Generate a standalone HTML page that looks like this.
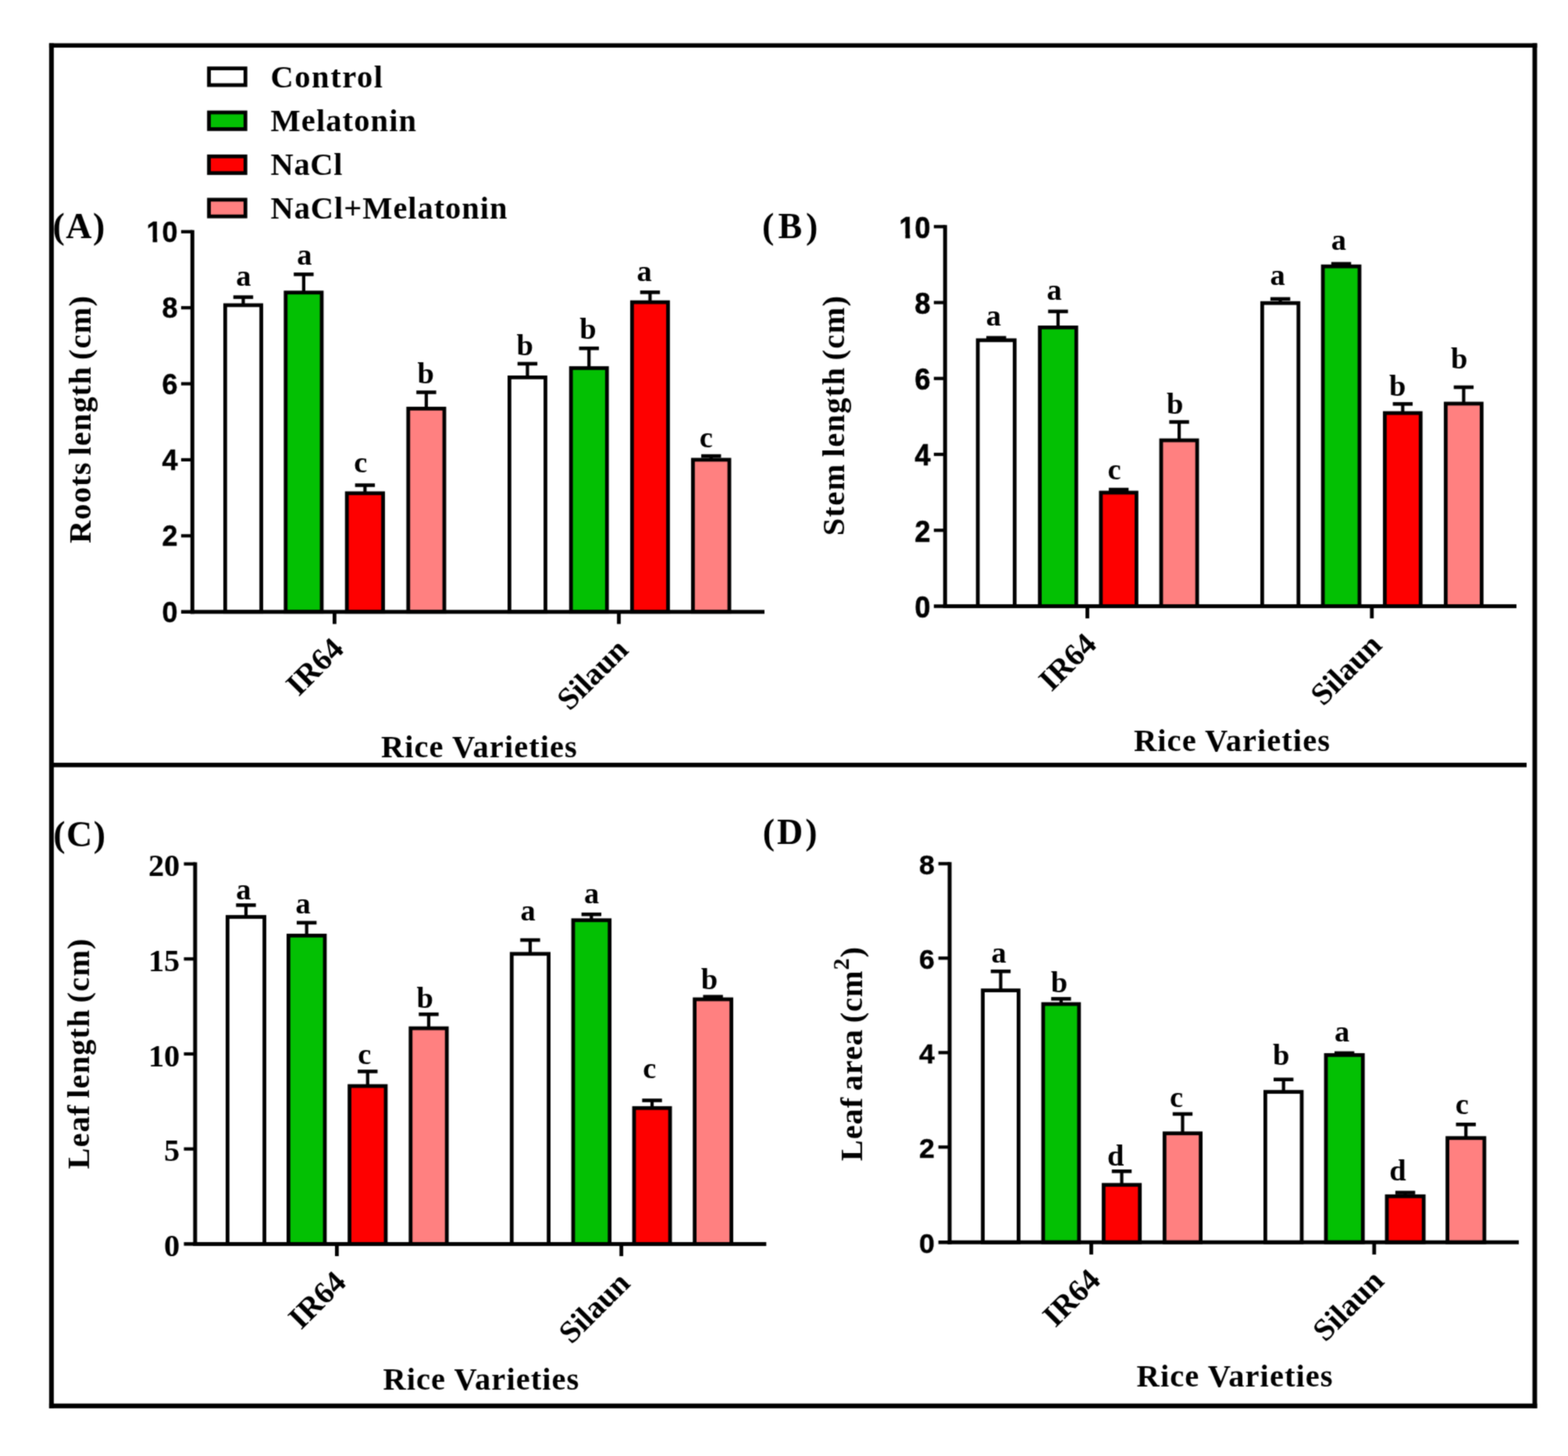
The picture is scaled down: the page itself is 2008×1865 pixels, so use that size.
<!DOCTYPE html>
<html lang="en">
<head>
<meta charset="utf-8">
<title>Rice varieties growth parameters</title>
<style>
html,body{margin:0;padding:0;background:#fff;}
body{width:2008px;height:1865px;overflow:hidden;}
svg{display:block;}
svg line, svg rect{stroke:#000;}
svg text{fill:#000;font-weight:bold;}
svg text.s{font-family:"Liberation Serif", "Times New Roman", serif;}
svg text.a{font-family:"Liberation Sans", Arial, sans-serif;}
</style>
</head>
<body>
<svg width="2008" height="1865" viewBox="0 0 2008 1865">
<defs><filter id="soft" x="0" y="0" width="2008" height="1865" filterUnits="userSpaceOnUse" color-interpolation-filters="sRGB"><feConvolveMatrix order="3" kernelMatrix="1 2 1 2 8 2 1 2 1" edgeMode="duplicate" preserveAlpha="false"/></filter></defs>
<rect x="0" y="0" width="2008" height="1865" fill="#fff" style="stroke:none"/>
<g filter="url(#soft)">
<g id="frame">
<rect x="62.9" y="55.4" width="6.00" height="1748.50" fill="#000" style="stroke:none"/>
<rect x="1962.5" y="55.4" width="5.90" height="1748.50" fill="#000" style="stroke:none"/>
<rect x="62.9" y="55.4" width="1905.50" height="5.60" fill="#000" style="stroke:none"/>
<rect x="62.9" y="1797.8" width="1905.50" height="6.10" fill="#000" style="stroke:none"/>
<line x1="66.00" y1="979.85" x2="1955.00" y2="979.85" stroke-width="5.7"/>
</g>
<g id="legend">
<rect x="267.60" y="87.60" width="46.70" height="21.40" fill="#ffffff" stroke-width="4.8"/>
<text class="s" x="346.50" y="111.70" font-size="40.5" text-anchor="start" letter-spacing="1.55">Control</text>
<rect x="267.60" y="144.00" width="46.70" height="21.40" fill="#03c003" stroke-width="4.8"/>
<text class="s" x="346.50" y="168.10" font-size="40.5" text-anchor="start" letter-spacing="1.1">Melatonin</text>
<rect x="267.60" y="200.30" width="46.70" height="21.40" fill="#fe0000" stroke-width="4.8"/>
<text class="s" x="346.50" y="224.20" font-size="40.5" text-anchor="start" letter-spacing="0.65">NaCl</text>
<rect x="267.60" y="255.80" width="46.70" height="21.40" fill="#ff8080" stroke-width="4.8"/>
<text class="s" x="346.50" y="279.50" font-size="40.5" text-anchor="start" letter-spacing="0.93">NaCl+Melatonin</text>
</g>
<g id="panel-A">
<line x1="311.50" y1="380.20" x2="311.50" y2="390.50" stroke-width="4.2"/>
<line x1="298.80" y1="380.60" x2="324.20" y2="380.60" stroke-width="4.6"/>
<rect x="288.40" y="390.90" width="46.20" height="392.80" fill="#ffffff" stroke-width="4.8"/>
<line x1="388.90" y1="351.00" x2="388.90" y2="374.30" stroke-width="4.2"/>
<line x1="376.20" y1="351.40" x2="401.60" y2="351.40" stroke-width="4.6"/>
<rect x="365.80" y="374.70" width="46.20" height="409.00" fill="#03c003" stroke-width="4.8"/>
<line x1="467.40" y1="621.10" x2="467.40" y2="631.40" stroke-width="4.2"/>
<line x1="454.70" y1="621.50" x2="480.10" y2="621.50" stroke-width="4.6"/>
<rect x="444.20" y="631.80" width="46.40" height="151.90" fill="#fe0000" stroke-width="4.8"/>
<line x1="545.90" y1="502.10" x2="545.90" y2="523.00" stroke-width="4.2"/>
<line x1="533.20" y1="502.50" x2="558.60" y2="502.50" stroke-width="4.6"/>
<rect x="522.80" y="523.40" width="46.20" height="260.30" fill="#ff8080" stroke-width="4.8"/>
<line x1="675.45" y1="465.50" x2="675.45" y2="483.00" stroke-width="4.2"/>
<line x1="662.75" y1="465.90" x2="688.15" y2="465.90" stroke-width="4.6"/>
<rect x="652.40" y="483.40" width="46.10" height="300.30" fill="#ffffff" stroke-width="4.8"/>
<line x1="754.25" y1="445.80" x2="754.25" y2="471.10" stroke-width="4.2"/>
<line x1="741.55" y1="446.20" x2="766.95" y2="446.20" stroke-width="4.6"/>
<rect x="731.20" y="471.50" width="46.10" height="312.20" fill="#03c003" stroke-width="4.8"/>
<line x1="832.45" y1="374.00" x2="832.45" y2="386.70" stroke-width="4.2"/>
<line x1="819.75" y1="374.40" x2="845.15" y2="374.40" stroke-width="4.6"/>
<rect x="809.40" y="387.10" width="46.10" height="396.60" fill="#fe0000" stroke-width="4.8"/>
<line x1="910.70" y1="583.70" x2="910.70" y2="588.50" stroke-width="4.2"/>
<line x1="898.00" y1="584.10" x2="923.40" y2="584.10" stroke-width="4.6"/>
<rect x="887.40" y="588.90" width="46.60" height="194.80" fill="#ff8080" stroke-width="4.8"/>
<line x1="246.35" y1="294.80" x2="246.35" y2="786.20" stroke-width="5.0"/>
<line x1="243.85" y1="783.70" x2="979.00" y2="783.70" stroke-width="5.0"/>
<line x1="231.95" y1="296.80" x2="246.35" y2="296.80" stroke-width="4.2"/>
<text class="a" x="227.50" y="309.80" font-size="36.0" text-anchor="end" style="stroke:#000;stroke-width:0.4">10</text>
<rect x="186.37" y="304.94" width="9.23" height="6.84" fill="#fff" style="stroke:none"/>
<rect x="201.30" y="304.94" width="6.86" height="6.84" fill="#fff" style="stroke:none"/>
<line x1="231.95" y1="394.18" x2="246.35" y2="394.18" stroke-width="4.2"/>
<text class="a" x="227.50" y="407.18" font-size="36.0" text-anchor="end" style="stroke:#000;stroke-width:0.4">8</text>
<line x1="231.95" y1="491.56" x2="246.35" y2="491.56" stroke-width="4.2"/>
<text class="a" x="227.50" y="504.56" font-size="36.0" text-anchor="end" style="stroke:#000;stroke-width:0.4">6</text>
<line x1="231.95" y1="588.94" x2="246.35" y2="588.94" stroke-width="4.2"/>
<text class="a" x="227.50" y="601.94" font-size="36.0" text-anchor="end" style="stroke:#000;stroke-width:0.4">4</text>
<line x1="231.95" y1="686.32" x2="246.35" y2="686.32" stroke-width="4.2"/>
<text class="a" x="227.50" y="699.32" font-size="36.0" text-anchor="end" style="stroke:#000;stroke-width:0.4">2</text>
<line x1="231.95" y1="783.70" x2="246.35" y2="783.70" stroke-width="4.6"/>
<text class="a" x="227.50" y="796.70" font-size="36.0" text-anchor="end" style="stroke:#000;stroke-width:0.4">0</text>
<line x1="428.40" y1="783.70" x2="428.40" y2="799.30" stroke-width="4.8"/>
<line x1="792.50" y1="783.70" x2="792.50" y2="799.30" stroke-width="4.8"/>
<text class="s" x="311.90" y="366.10" font-size="38.5" text-anchor="middle">a</text>
<text class="s" x="389.90" y="338.50" font-size="38.5" text-anchor="middle">a</text>
<text class="s" x="461.80" y="605.20" font-size="38.5" text-anchor="middle">c</text>
<text class="s" x="545.10" y="491.00" font-size="38.5" text-anchor="middle">b</text>
<text class="s" x="672.10" y="454.70" font-size="38.5" text-anchor="middle">b</text>
<text class="s" x="753.00" y="434.30" font-size="38.5" text-anchor="middle">b</text>
<text class="s" x="825.10" y="359.60" font-size="38.5" text-anchor="middle">a</text>
<text class="s" x="904.30" y="572.90" font-size="38.5" text-anchor="middle">c</text>
<text class="s" x="0" y="0" font-size="40" text-anchor="end" transform="translate(442.10 833.30) rotate(-45)">IR64</text>
<text class="s" x="0" y="0" font-size="40" text-anchor="end" transform="translate(806.60 834.50) rotate(-45)">Silaun</text>
<text class="s" x="487.90" y="969.60" font-size="40.5" text-anchor="start" letter-spacing="1.05">Rice Varieties</text>
<text class="s" x="0" y="0" font-size="40.5" text-anchor="middle" letter-spacing="1.11" word-spacing="-3.4" transform="translate(116.00 537.00) rotate(-90)">Roots length (cm)</text>
<text class="s" x="67.50" y="305.20" font-size="46" text-anchor="start" letter-spacing="1.5">(A)</text>
</g>
<g id="panel-B">
<line x1="1275.80" y1="432.30" x2="1275.80" y2="435.40" stroke-width="4.2"/>
<line x1="1263.10" y1="432.70" x2="1288.50" y2="432.70" stroke-width="4.6"/>
<rect x="1252.20" y="435.80" width="47.20" height="340.70" fill="#ffffff" stroke-width="4.8"/>
<line x1="1354.95" y1="398.50" x2="1354.95" y2="419.00" stroke-width="4.2"/>
<line x1="1342.25" y1="398.90" x2="1367.65" y2="398.90" stroke-width="4.6"/>
<rect x="1331.60" y="419.40" width="46.70" height="357.10" fill="#03c003" stroke-width="4.8"/>
<line x1="1432.60" y1="626.70" x2="1432.60" y2="630.60" stroke-width="4.2"/>
<line x1="1419.90" y1="627.10" x2="1445.30" y2="627.10" stroke-width="4.6"/>
<rect x="1409.80" y="631.00" width="45.60" height="145.50" fill="#fe0000" stroke-width="4.8"/>
<line x1="1510.05" y1="540.10" x2="1510.05" y2="563.60" stroke-width="4.2"/>
<line x1="1497.35" y1="540.50" x2="1522.75" y2="540.50" stroke-width="4.6"/>
<rect x="1487.00" y="564.00" width="46.10" height="212.50" fill="#ff8080" stroke-width="4.8"/>
<line x1="1639.60" y1="382.50" x2="1639.60" y2="387.80" stroke-width="4.2"/>
<line x1="1626.90" y1="382.90" x2="1652.30" y2="382.90" stroke-width="4.6"/>
<rect x="1616.40" y="388.20" width="46.40" height="388.30" fill="#ffffff" stroke-width="4.8"/>
<line x1="1717.55" y1="337.50" x2="1717.55" y2="340.80" stroke-width="4.2"/>
<line x1="1704.85" y1="337.90" x2="1730.25" y2="337.90" stroke-width="4.6"/>
<rect x="1694.10" y="341.20" width="46.90" height="435.30" fill="#03c003" stroke-width="4.8"/>
<line x1="1796.35" y1="517.00" x2="1796.35" y2="528.70" stroke-width="4.2"/>
<line x1="1783.65" y1="517.40" x2="1809.05" y2="517.40" stroke-width="4.6"/>
<rect x="1773.40" y="529.10" width="45.90" height="247.40" fill="#fe0000" stroke-width="4.8"/>
<line x1="1874.40" y1="495.60" x2="1874.40" y2="516.60" stroke-width="4.2"/>
<line x1="1861.70" y1="496.00" x2="1887.10" y2="496.00" stroke-width="4.6"/>
<rect x="1851.40" y="517.00" width="46.00" height="259.50" fill="#ff8080" stroke-width="4.8"/>
<line x1="1210.30" y1="288.30" x2="1210.30" y2="779.00" stroke-width="5.0"/>
<line x1="1207.80" y1="776.50" x2="1942.00" y2="776.50" stroke-width="5.0"/>
<line x1="1195.90" y1="290.30" x2="1210.30" y2="290.30" stroke-width="4.2"/>
<text class="a" x="0" y="0" font-size="35.8" text-anchor="end" transform="translate(1191.30 304.60) scale(1 1.07)" style="stroke:#000;stroke-width:0.7">10</text>
<rect x="1150.40" y="299.43" width="9.03" height="7.28" fill="#fff" style="stroke:none"/>
<rect x="1165.39" y="299.43" width="6.67" height="7.28" fill="#fff" style="stroke:none"/>
<line x1="1195.90" y1="387.54" x2="1210.30" y2="387.54" stroke-width="4.2"/>
<text class="a" x="0" y="0" font-size="35.8" text-anchor="end" transform="translate(1191.30 401.84) scale(1 1.07)" style="stroke:#000;stroke-width:0.7">8</text>
<line x1="1195.90" y1="484.78" x2="1210.30" y2="484.78" stroke-width="4.2"/>
<text class="a" x="0" y="0" font-size="35.8" text-anchor="end" transform="translate(1191.30 499.08) scale(1 1.07)" style="stroke:#000;stroke-width:0.7">6</text>
<line x1="1195.90" y1="582.02" x2="1210.30" y2="582.02" stroke-width="4.2"/>
<text class="a" x="0" y="0" font-size="35.8" text-anchor="end" transform="translate(1191.30 596.32) scale(1 1.07)" style="stroke:#000;stroke-width:0.7">4</text>
<line x1="1195.90" y1="679.26" x2="1210.30" y2="679.26" stroke-width="4.2"/>
<text class="a" x="0" y="0" font-size="35.8" text-anchor="end" transform="translate(1191.30 693.56) scale(1 1.07)" style="stroke:#000;stroke-width:0.7">2</text>
<line x1="1195.90" y1="776.50" x2="1210.30" y2="776.50" stroke-width="4.6"/>
<text class="a" x="0" y="0" font-size="35.8" text-anchor="end" transform="translate(1191.30 790.80) scale(1 1.07)" style="stroke:#000;stroke-width:0.7">0</text>
<line x1="1392.50" y1="776.50" x2="1392.50" y2="792.10" stroke-width="4.8"/>
<line x1="1756.80" y1="776.50" x2="1756.80" y2="792.10" stroke-width="4.8"/>
<text class="s" x="1272.30" y="417.30" font-size="38.5" text-anchor="middle">a</text>
<text class="s" x="1350.00" y="383.50" font-size="38.5" text-anchor="middle">a</text>
<text class="s" x="1427.10" y="614.20" font-size="38.5" text-anchor="middle">c</text>
<text class="s" x="1504.70" y="529.80" font-size="38.5" text-anchor="middle">b</text>
<text class="s" x="1636.10" y="365.20" font-size="38.5" text-anchor="middle">a</text>
<text class="s" x="1714.30" y="319.60" font-size="38.5" text-anchor="middle">a</text>
<text class="s" x="1789.60" y="507.30" font-size="38.5" text-anchor="middle">b</text>
<text class="s" x="1868.60" y="472.10" font-size="38.5" text-anchor="middle">b</text>
<text class="s" x="0" y="0" font-size="40" text-anchor="end" transform="translate(1406.10 827.30) rotate(-45)">IR64</text>
<text class="s" x="0" y="0" font-size="40" text-anchor="end" transform="translate(1771.50 828.50) rotate(-45)">Silaun</text>
<text class="s" x="1452.00" y="962.00" font-size="40.5" text-anchor="start" letter-spacing="1.05">Rice Varieties</text>
<text class="s" x="0" y="0" font-size="40.5" text-anchor="middle" letter-spacing="1.3" word-spacing="-3.4" transform="translate(1081.00 532.00) rotate(-90)">Stem length (cm)</text>
<text class="s" x="976.10" y="305.00" font-size="46" text-anchor="start" letter-spacing="5.0">(B)</text>
</g>
<g id="panel-C">
<line x1="315.00" y1="1159.00" x2="315.00" y2="1174.10" stroke-width="4.2"/>
<line x1="302.30" y1="1159.40" x2="327.70" y2="1159.40" stroke-width="4.6"/>
<rect x="291.40" y="1174.50" width="47.20" height="418.90" fill="#ffffff" stroke-width="4.8"/>
<line x1="392.70" y1="1181.50" x2="392.70" y2="1198.00" stroke-width="4.2"/>
<line x1="380.00" y1="1181.90" x2="405.40" y2="1181.90" stroke-width="4.6"/>
<rect x="369.40" y="1198.40" width="46.60" height="395.00" fill="#03c003" stroke-width="4.8"/>
<line x1="470.80" y1="1372.00" x2="470.80" y2="1390.70" stroke-width="4.2"/>
<line x1="458.10" y1="1372.40" x2="483.50" y2="1372.40" stroke-width="4.6"/>
<rect x="447.60" y="1391.10" width="46.40" height="202.30" fill="#fe0000" stroke-width="4.8"/>
<line x1="549.00" y1="1298.80" x2="549.00" y2="1316.70" stroke-width="4.2"/>
<line x1="536.30" y1="1299.20" x2="561.70" y2="1299.20" stroke-width="4.6"/>
<rect x="525.80" y="1317.10" width="46.40" height="276.30" fill="#ff8080" stroke-width="4.8"/>
<line x1="678.95" y1="1203.70" x2="678.95" y2="1221.40" stroke-width="4.2"/>
<line x1="666.25" y1="1204.10" x2="691.65" y2="1204.10" stroke-width="4.6"/>
<rect x="655.30" y="1221.80" width="47.30" height="371.60" fill="#ffffff" stroke-width="4.8"/>
<line x1="757.35" y1="1170.80" x2="757.35" y2="1178.30" stroke-width="4.2"/>
<line x1="744.65" y1="1171.20" x2="770.05" y2="1171.20" stroke-width="4.6"/>
<rect x="734.00" y="1178.70" width="46.70" height="414.70" fill="#03c003" stroke-width="4.8"/>
<line x1="835.05" y1="1409.10" x2="835.05" y2="1418.90" stroke-width="4.2"/>
<line x1="822.35" y1="1409.50" x2="847.75" y2="1409.50" stroke-width="4.6"/>
<rect x="812.00" y="1419.30" width="46.10" height="174.10" fill="#fe0000" stroke-width="4.8"/>
<line x1="913.10" y1="1276.30" x2="913.10" y2="1279.60" stroke-width="4.2"/>
<line x1="900.40" y1="1276.70" x2="925.80" y2="1276.70" stroke-width="4.6"/>
<rect x="889.60" y="1280.00" width="47.00" height="313.40" fill="#ff8080" stroke-width="4.8"/>
<line x1="249.90" y1="1104.60" x2="249.90" y2="1595.90" stroke-width="5.0"/>
<line x1="247.40" y1="1593.40" x2="981.30" y2="1593.40" stroke-width="5.0"/>
<line x1="235.50" y1="1106.60" x2="249.90" y2="1106.60" stroke-width="4.2"/>
<text class="s" x="230.00" y="1122.20" font-size="40.5" text-anchor="end" letter-spacing="-0.3">20</text>
<line x1="235.50" y1="1228.30" x2="249.90" y2="1228.30" stroke-width="4.2"/>
<text class="s" x="230.00" y="1243.90" font-size="40.5" text-anchor="end" letter-spacing="-0.3">15</text>
<line x1="235.50" y1="1350.00" x2="249.90" y2="1350.00" stroke-width="4.2"/>
<text class="s" x="230.00" y="1365.60" font-size="40.5" text-anchor="end" letter-spacing="-0.3">10</text>
<line x1="235.50" y1="1471.70" x2="249.90" y2="1471.70" stroke-width="4.2"/>
<text class="s" x="230.00" y="1487.30" font-size="40.5" text-anchor="end" letter-spacing="-0.3">5</text>
<line x1="235.50" y1="1593.40" x2="249.90" y2="1593.40" stroke-width="4.6"/>
<text class="s" x="230.00" y="1609.00" font-size="40.5" text-anchor="end" letter-spacing="-0.3">0</text>
<line x1="431.40" y1="1593.40" x2="431.40" y2="1609.00" stroke-width="4.8"/>
<line x1="795.70" y1="1593.40" x2="795.70" y2="1609.00" stroke-width="4.8"/>
<text class="s" x="311.90" y="1152.30" font-size="38.5" text-anchor="middle">a</text>
<text class="s" x="388.00" y="1169.90" font-size="38.5" text-anchor="middle">a</text>
<text class="s" x="466.70" y="1363.10" font-size="38.5" text-anchor="middle">c</text>
<text class="s" x="544.10" y="1291.00" font-size="38.5" text-anchor="middle">b</text>
<text class="s" x="676.20" y="1178.80" font-size="38.5" text-anchor="middle">a</text>
<text class="s" x="757.70" y="1157.20" font-size="38.5" text-anchor="middle">a</text>
<text class="s" x="831.90" y="1381.40" font-size="38.5" text-anchor="middle">c</text>
<text class="s" x="908.50" y="1266.90" font-size="38.5" text-anchor="middle">b</text>
<text class="s" x="0" y="0" font-size="40" text-anchor="end" transform="translate(445.10 1644.50) rotate(-45)">IR64</text>
<text class="s" x="0" y="0" font-size="40" text-anchor="end" transform="translate(808.80 1645.70) rotate(-45)">Silaun</text>
<text class="s" x="490.40" y="1780.00" font-size="40.5" text-anchor="start" letter-spacing="1.05">Rice Varieties</text>
<text class="s" x="0" y="0" font-size="40.5" text-anchor="middle" letter-spacing="1.07" word-spacing="-3.4" transform="translate(114.30 1349.50) rotate(-90)">Leaf length (cm)</text>
<text class="s" x="68.30" y="1083.50" font-size="46" text-anchor="start" letter-spacing="1.5">(C)</text>
</g>
<g id="panel-D">
<line x1="1281.50" y1="1243.80" x2="1281.50" y2="1268.20" stroke-width="4.2"/>
<line x1="1268.80" y1="1244.20" x2="1294.20" y2="1244.20" stroke-width="4.6"/>
<rect x="1258.60" y="1268.60" width="45.80" height="322.70" fill="#ffffff" stroke-width="4.8"/>
<line x1="1358.85" y1="1279.00" x2="1358.85" y2="1285.70" stroke-width="4.2"/>
<line x1="1346.15" y1="1279.40" x2="1371.55" y2="1279.40" stroke-width="4.6"/>
<rect x="1335.90" y="1286.10" width="45.90" height="305.20" fill="#03c003" stroke-width="4.8"/>
<line x1="1436.50" y1="1499.90" x2="1436.50" y2="1517.30" stroke-width="4.2"/>
<line x1="1423.80" y1="1500.30" x2="1449.20" y2="1500.30" stroke-width="4.6"/>
<rect x="1413.30" y="1517.70" width="46.40" height="73.60" fill="#fe0000" stroke-width="4.8"/>
<line x1="1514.45" y1="1426.50" x2="1514.45" y2="1451.30" stroke-width="4.2"/>
<line x1="1501.75" y1="1426.90" x2="1527.15" y2="1426.90" stroke-width="4.6"/>
<rect x="1491.30" y="1451.70" width="46.30" height="139.60" fill="#ff8080" stroke-width="4.8"/>
<line x1="1643.70" y1="1382.30" x2="1643.70" y2="1398.20" stroke-width="4.2"/>
<line x1="1631.00" y1="1382.70" x2="1656.40" y2="1382.70" stroke-width="4.6"/>
<rect x="1620.40" y="1398.60" width="46.60" height="192.70" fill="#ffffff" stroke-width="4.8"/>
<line x1="1721.65" y1="1348.50" x2="1721.65" y2="1351.00" stroke-width="4.2"/>
<line x1="1708.95" y1="1348.90" x2="1734.35" y2="1348.90" stroke-width="4.6"/>
<rect x="1698.00" y="1351.40" width="47.30" height="239.90" fill="#03c003" stroke-width="4.8"/>
<line x1="1799.60" y1="1527.20" x2="1799.60" y2="1531.90" stroke-width="4.2"/>
<line x1="1786.90" y1="1527.60" x2="1812.30" y2="1527.60" stroke-width="4.6"/>
<rect x="1776.00" y="1532.30" width="47.20" height="59.00" fill="#fe0000" stroke-width="4.8"/>
<line x1="1877.25" y1="1439.90" x2="1877.25" y2="1457.30" stroke-width="4.2"/>
<line x1="1864.55" y1="1440.30" x2="1889.95" y2="1440.30" stroke-width="4.6"/>
<rect x="1853.60" y="1457.70" width="47.30" height="133.60" fill="#ff8080" stroke-width="4.8"/>
<line x1="1216.10" y1="1104.30" x2="1216.10" y2="1593.80" stroke-width="5.0"/>
<line x1="1213.60" y1="1591.30" x2="1945.00" y2="1591.30" stroke-width="5.0"/>
<line x1="1201.70" y1="1106.30" x2="1216.10" y2="1106.30" stroke-width="4.2"/>
<text class="a" x="1197.00" y="1119.80" font-size="35.8" text-anchor="end" style="stroke:#000;stroke-width:0.4">8</text>
<line x1="1201.70" y1="1227.30" x2="1216.10" y2="1227.30" stroke-width="4.2"/>
<text class="a" x="1197.00" y="1240.80" font-size="35.8" text-anchor="end" style="stroke:#000;stroke-width:0.4">6</text>
<line x1="1201.70" y1="1348.30" x2="1216.10" y2="1348.30" stroke-width="4.2"/>
<text class="a" x="1197.00" y="1361.80" font-size="35.8" text-anchor="end" style="stroke:#000;stroke-width:0.4">4</text>
<line x1="1201.70" y1="1469.30" x2="1216.10" y2="1469.30" stroke-width="4.2"/>
<text class="a" x="1197.00" y="1482.80" font-size="35.8" text-anchor="end" style="stroke:#000;stroke-width:0.4">2</text>
<line x1="1201.70" y1="1591.30" x2="1216.10" y2="1591.30" stroke-width="4.6"/>
<text class="a" x="1197.00" y="1604.80" font-size="35.8" text-anchor="end" style="stroke:#000;stroke-width:0.4">0</text>
<line x1="1397.50" y1="1591.30" x2="1397.50" y2="1606.90" stroke-width="4.8"/>
<line x1="1759.80" y1="1591.30" x2="1759.80" y2="1606.90" stroke-width="4.8"/>
<text class="s" x="1279.00" y="1232.70" font-size="38.5" text-anchor="middle">a</text>
<text class="s" x="1356.50" y="1271.20" font-size="38.5" text-anchor="middle">b</text>
<text class="s" x="1428.60" y="1493.00" font-size="38.5" text-anchor="middle">d</text>
<text class="s" x="1506.60" y="1418.00" font-size="38.5" text-anchor="middle">c</text>
<text class="s" x="1640.60" y="1363.60" font-size="38.5" text-anchor="middle">b</text>
<text class="s" x="1718.50" y="1334.00" font-size="38.5" text-anchor="middle">a</text>
<text class="s" x="1789.90" y="1512.10" font-size="38.5" text-anchor="middle">d</text>
<text class="s" x="1872.40" y="1426.90" font-size="38.5" text-anchor="middle">c</text>
<text class="s" x="0" y="0" font-size="40" text-anchor="end" transform="translate(1411.10 1641.80) rotate(-45)">IR64</text>
<text class="s" x="0" y="0" font-size="40" text-anchor="end" transform="translate(1774.30 1643.00) rotate(-45)">Silaun</text>
<text class="s" x="1455.60" y="1776.00" font-size="40.5" text-anchor="start" letter-spacing="1.05">Rice Varieties</text>
<text class="s" x="0" y="0" font-size="40.5" text-anchor="middle" letter-spacing="0.89" word-spacing="-3.4" transform="translate(1104.00 1349.70) rotate(-90)">Leaf area (cm<tspan font-size="30" dy="-17.5">2</tspan><tspan dy="17.5">)</tspan></text>
<text class="s" x="976.80" y="1081.30" font-size="46" text-anchor="start" letter-spacing="3.0">(D)</text>
</g>
</g>
</svg>
</body>
</html>
